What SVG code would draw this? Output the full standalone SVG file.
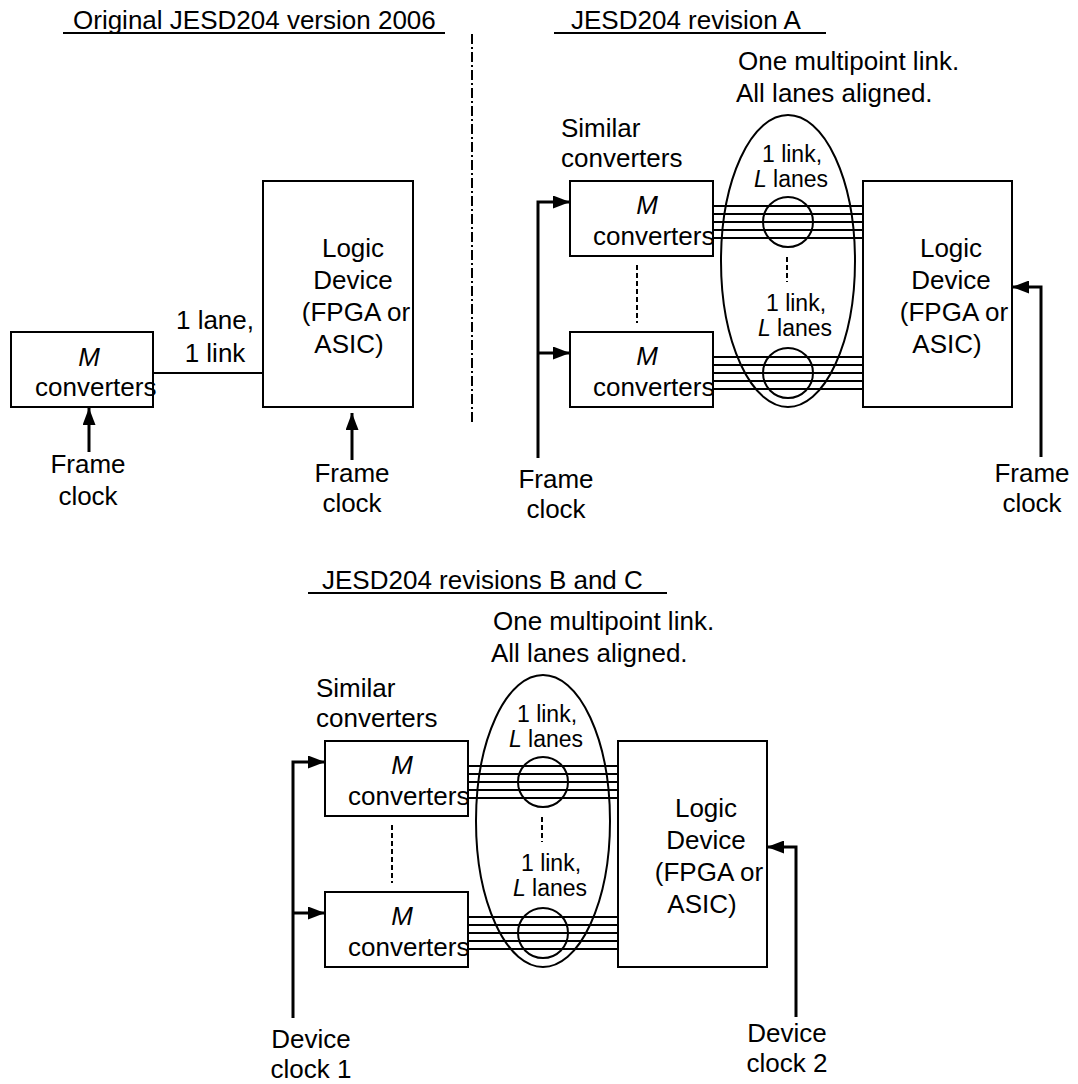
<svg xmlns="http://www.w3.org/2000/svg" width="1078" height="1084" viewBox="0 0 1078 1084">
<defs>
<style>
text{font-family:"Liberation Sans",Arial,Helvetica,sans-serif;font-size:26px;fill:#000}
.sm{font-size:23px}
.it{font-style:italic}
.mid{text-anchor:middle}
.box{fill:#fff;stroke:#000;stroke-width:2}
.ln{fill:none;stroke:#000;stroke-width:2}
.arr{fill:none;stroke:#000;stroke-width:3;marker-end:url(#ah)}
.dash{fill:none;stroke:#000;stroke-width:2;stroke-dasharray:5 3}
.dd{fill:none;stroke:#000;stroke-width:2;stroke-dasharray:10 3 2 3}
</style>
<marker id="ah" viewBox="0 0 17 13" refX="17" refY="6.5" markerWidth="17" markerHeight="13" markerUnits="userSpaceOnUse" orient="auto">
<path d="M0,0 L17,6.5 L0,13 z" fill="#000"/>
</marker>
</defs>
<rect width="1078" height="1084" fill="#fff"/>

<g id="titles">
<text x="73" y="29">Original JESD204 version 2006</text>
<line class="ln" x1="63" y1="33" x2="445" y2="33"/>
<text x="571" y="29">JESD204  revision A</text>
<line class="ln" x1="554" y1="33" x2="826" y2="33"/>
<text x="322" y="589">JESD204 revisions B and C</text>
<line class="ln" x1="308" y1="593" x2="667" y2="593"/>
<line class="dd" x1="472" y1="34" x2="472" y2="424"/>
</g>

<g id="connectors">
<line class="ln" x1="153" y1="373" x2="263" y2="373"/>
<line class="arr" x1="89" y1="452" x2="89" y2="408"/>
<line class="arr" x1="352" y1="460" x2="352" y2="413"/>
<g class="ln">
<path d="M713 206H863M713 214H863M713 222H863M713 230H863M713 238H863"/>
<path d="M713 357H863M713 365H863M713 373H863M713 381H863M713 389H863"/>
</g>
<path class="arr" d="M538 458V202H570"/>
<line class="arr" x1="538" y1="353" x2="570" y2="353"/>
<path class="arr" d="M1041 457V287H1012"/>
<line class="dash" x1="637" y1="265" x2="637" y2="323"/>
<line class="dash" x1="787" y1="257" x2="787" y2="282"/>
<g class="ln">
<path d="M468 766H618M468 774H618M468 782H618M468 790H618M468 798H618"/>
<path d="M468 917H618M468 925H618M468 933H618M468 941H618M468 949H618"/>
</g>
<path class="arr" d="M293 1018V762H325"/>
<line class="arr" x1="293" y1="913" x2="325" y2="913"/>
<path class="arr" d="M796 1017V847H767"/>
<line class="dash" x1="392" y1="825" x2="392" y2="883"/>
<line class="dash" x1="542" y1="817" x2="542" y2="842"/>
</g>

<g id="p1-conv">
<rect class="box" x="11" y="332" width="142" height="75"/>
<text class="it mid" x="89" y="366">M</text>
<text x="35" y="396">converters</text>
</g>
<g id="p1-logic">
<rect class="box" x="263" y="181" width="150" height="226"/>
<text class="mid" x="353" y="257">Logic</text>
<text class="mid" x="353" y="289">Device</text>
<text class="mid" x="356" y="321">(FPGA or</text>
<text class="mid" x="349" y="353">ASIC)</text>
</g>
<g id="p1-labels">
<text class="mid" x="215" y="329">1 lane,</text>
<text class="mid" x="215" y="362">1 link</text>
<text class="mid" x="88" y="473">Frame</text>
<text class="mid" x="88" y="505">clock</text>
<text class="mid" x="352" y="482">Frame</text>
<text class="mid" x="352" y="512">clock</text>
</g>

<g id="p2-conv1">
<rect class="box" x="570" y="181" width="143" height="75"/>
<text class="it mid" x="647" y="214">M</text>
<text x="593" y="245">converters</text>
</g>
<g id="p2-conv2">
<rect class="box" x="570" y="332" width="143" height="75"/>
<text class="it mid" x="647" y="365">M</text>
<text x="593" y="396">converters</text>
</g>
<g id="p2-logic">
<rect class="box" x="863" y="181" width="149" height="226"/>
<text class="mid" x="951" y="257">Logic</text>
<text class="mid" x="951" y="289">Device</text>
<text class="mid" x="954" y="321">(FPGA or</text>
<text class="mid" x="947" y="353">ASIC)</text>
</g>
<g id="p2-link">
<ellipse class="ln" cx="788" cy="261" rx="67" ry="146"/>
<circle class="ln" cx="788" cy="222" r="25"/>
<circle class="ln" cx="788" cy="373" r="25"/>
<text class="sm mid" x="792" y="162">1 link,</text>
<text class="sm mid" x="791" y="187"><tspan class="it">L</tspan> lanes</text>
<text class="sm mid" x="796" y="311">1 link,</text>
<text class="sm mid" x="795" y="336"><tspan class="it">L</tspan> lanes</text>
</g>
<g id="p2-labels">
<text x="738" y="70">One multipoint link.</text>
<text x="736" y="102">All lanes aligned.</text>
<text x="561" y="137">Similar</text>
<text x="561" y="167">converters</text>
<text class="mid" x="556" y="488">Frame</text>
<text class="mid" x="556" y="518">clock</text>
<text class="mid" x="1032" y="482">Frame</text>
<text class="mid" x="1032" y="512">clock</text>
</g>

<g id="p3-conv1">
<rect class="box" x="325" y="741" width="143" height="75"/>
<text class="it mid" x="402" y="774">M</text>
<text x="348" y="805">converters</text>
</g>
<g id="p3-conv2">
<rect class="box" x="325" y="892" width="143" height="75"/>
<text class="it mid" x="402" y="925">M</text>
<text x="348" y="956">converters</text>
</g>
<g id="p3-logic">
<rect class="box" x="618" y="741" width="149" height="226"/>
<text class="mid" x="706" y="817">Logic</text>
<text class="mid" x="706" y="849">Device</text>
<text class="mid" x="709" y="881">(FPGA or</text>
<text class="mid" x="702" y="913">ASIC)</text>
</g>
<g id="p3-link">
<ellipse class="ln" cx="543" cy="821" rx="67" ry="146"/>
<circle class="ln" cx="543" cy="782" r="25"/>
<circle class="ln" cx="543" cy="933" r="25"/>
<text class="sm mid" x="547" y="722">1 link,</text>
<text class="sm mid" x="546" y="747"><tspan class="it">L</tspan> lanes</text>
<text class="sm mid" x="551" y="871">1 link,</text>
<text class="sm mid" x="550" y="896"><tspan class="it">L</tspan> lanes</text>
</g>
<g id="p3-labels">
<text x="493" y="630">One multipoint link.</text>
<text x="491" y="662">All lanes aligned.</text>
<text x="316" y="697">Similar</text>
<text x="316" y="727">converters</text>
<text class="mid" x="311" y="1048">Device</text>
<text class="mid" x="311" y="1078">clock 1</text>
<text class="mid" x="787" y="1042">Device</text>
<text class="mid" x="787" y="1072">clock 2</text>
</g>
</svg>
